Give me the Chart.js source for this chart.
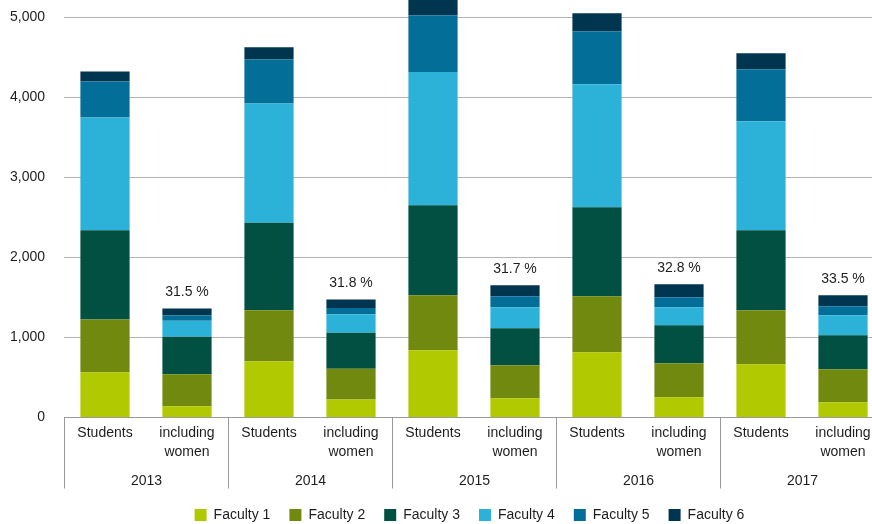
<!DOCTYPE html>
<html>
<head>
<meta charset="utf-8">
<script src="https://cdn.jsdelivr.net/npm/chart.js@4/dist/chart.umd.min.js"></script>
<style>
  html, body { margin: 0; padding: 0; background: #fff; overflow: hidden; }
  #wrap { position: relative; width: 939px; height: 532px; }
</style>
</head>
<body>
<div id="wrap"><canvas id="myChart"></canvas></div>
<script>
var years = ['2013', '2014', '2015', '2016', '2017'];
var groupLabels = [['Students'], ['including', 'women']];
var facultyNames = ['Faculty 1', 'Faculty 2', 'Faculty 3', 'Faculty 4', 'Faculty 5', 'Faculty 6'];
var facultyColors = ['#b0c900', '#70890e', '#025041', '#2cb1d8', '#036f98', '#003550'];

// students / including women, per year
var faculty1 = [566, 141, 704, 225, 841, 241, 816, 254, 666, 191];
var faculty2 = [659, 400, 637, 383, 688, 413, 700, 425, 675, 413];
var faculty3 = [1116, 467, 1092, 450, 1125, 462, 1113, 475, 1000, 425];
var faculty4 = [1409, 200, 1492, 233, 1666, 263, 1537, 225, 1363, 250];
var faculty5 = [450, 67, 550, 79, 709, 137, 663, 125, 650, 112];
var faculty6 = [125, 88, 154, 105, 189, 138, 225, 162, 200, 138];
var womenShare = ['31.5', '31.8', '31.7', '32.8', '33.5'];
var yMax = 5000;
var yStep = 1000;

var labels = [];
years.forEach(function(y) {
    groupLabels.forEach(function(g) { labels.push(g); });
});

var series = [faculty1, faculty2, faculty3, faculty4, faculty5, faculty6];
var datasets = series.map(function(values, i) {
    return {
        label: facultyNames[i],
        data: values,
        backgroundColor: facultyColors[i],
        borderWidth: 0,
        barPercentage: 0.6,
        categoryPercentage: 1,
        clip: false
    };
});

var textColor = '#1e1e1e';
var fontFamily = '"Liberation Sans", Arial, sans-serif';

// year row under the category labels + share labels above women bars
var groupPlugin = {
    id: 'groupAxis',
    afterDatasetsDraw: function(chart) {
        var ctx = chart.ctx;
        var last = chart.getDatasetMeta(series.length - 1);
        ctx.save();
        ctx.fillStyle = textColor;
        ctx.font = '14px ' + fontFamily;
        ctx.textAlign = 'center';
        ctx.textBaseline = 'middle';
        years.forEach(function(y, g) {
            var bar = last.data[g * 2 + 1];
            ctx.fillText(womenShare[g] + ' %', bar.x, bar.y - 16);
        });
        ctx.restore();
    },
    afterDraw: function(chart) {
        var ctx = chart.ctx;
        var xs = chart.scales.x;
        var bottom = chart.chartArea.bottom;
        var step = xs.getPixelForTick(1) - xs.getPixelForTick(0);
        ctx.save();
        ctx.strokeStyle = '#9a9a9a';
        ctx.lineWidth = 1;
        ctx.fillStyle = textColor;
        ctx.font = '14px ' + fontFamily;
        ctx.textAlign = 'center';
        ctx.textBaseline = 'middle';
        for (var g = 0; g <= years.length; g++) {
            var edge = Math.round(xs.getPixelForTick(0) - step / 2 + g * 2 * step) + 0.5;
            ctx.beginPath();
            ctx.moveTo(edge, bottom);
            ctx.lineTo(edge, bottom + 71);
            ctx.stroke();
            if (g < years.length) {
                ctx.fillText(years[g], edge + step, bottom + 64);
            }
        }
        ctx.restore();
    }
};

var ctx = document.getElementById('myChart').getContext('2d');
var myChart = new Chart(ctx, {
    type: 'bar',
    data: { labels: labels, datasets: datasets },
    plugins: [groupPlugin],
    options: {
        responsive: true,
        maintainAspectRatio: false,
        animation: false,
        layout: { padding: { left: 0, right: 0, top: 17.5, bottom: 0 } },
        plugins: {
            tooltip: { enabled: false },
            legend: {
                position: 'bottom',
                labels: {
                    boxWidth: 12,
                    boxHeight: 12,
                    padding: 19,
                    color: textColor,
                    font: { size: 14, family: fontFamily }
                }
            }
        },
        scales: {
            x: {
                stacked: true,
                grid: { display: false, drawTicks: false },
                border: { display: true, color: '#9a9a9a', width: 1 },
                ticks: {
                    color: textColor,
                    padding: 7,
                    maxRotation: 0,
                    autoSkip: false,
                    font: { size: 14, family: fontFamily, lineHeight: 1.3 }
                },
                afterFit: function(scale) { scale.height = 71.5; }
            },
            y: {
                stacked: true,
                min: 0,
                max: yMax,
                grid: { color: '#b4b4b4', lineWidth: 1, drawTicks: false },
                border: { display: false },
                ticks: {
                    stepSize: yStep,
                    padding: 19,
                    color: textColor,
                    font: { size: 14, family: fontFamily },
                    callback: function(v) { return v.toLocaleString('en-US'); }
                },
                afterFit: function(scale) {
                    scale.width = 64;
                    scale.paddingTop = 0;
                    scale.paddingBottom = 0;
                }
            },
            // empty right-hand axis, only reserves the space past the last group
            spacer: {
                position: 'right',
                display: true,
                min: 0,
                max: 1,
                grid: { display: false, drawTicks: false },
                border: { display: false },
                ticks: { display: false },
                afterFit: function(scale) {
                    scale.width = 55;
                    scale.paddingTop = 0;
                    scale.paddingBottom = 0;
                }
            }
        }
    }
});
</script>
</body>
</html>
